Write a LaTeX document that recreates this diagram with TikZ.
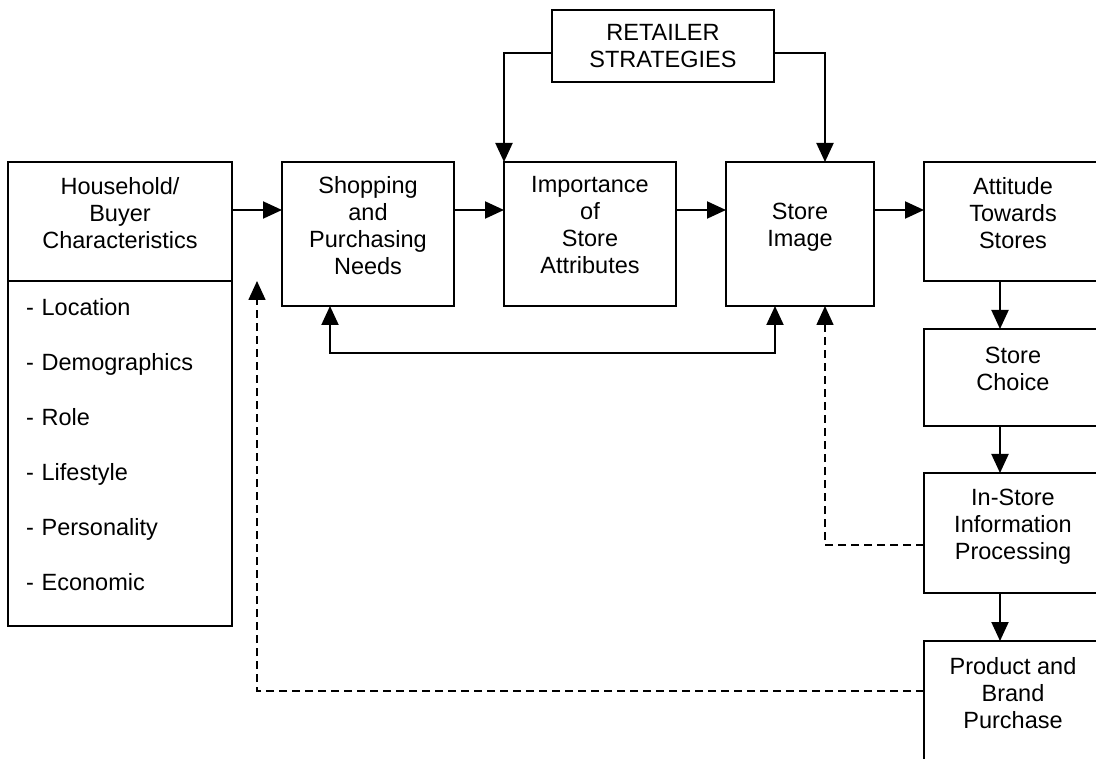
\documentclass[tikz,border=0pt]{standalone}
\usepackage{fontspec}
\setmainfont{Liberation Sans}
\usetikzlibrary{arrows.meta, positioning, calc}
\tikzset{
  stagebox/.style = {draw=black, line width=2pt, align=center, outer sep=0pt,
                     inner sep=2pt, font=\fontsize{23.5}{27}\selectfont,
                     text depth=18pt,
                     minimum width=172pt, minimum height=144pt},
  hhbox/.style    = {stagebox, minimum width=224pt, minimum height=119pt},
  listbox/.style  = {stagebox, minimum width=224pt, minimum height=345pt,
                     text width=188pt, align=left, text depth=293pt,
                     font=\fontsize{23.5}{55}\selectfont},
  colbox/.style   = {stagebox, minimum width=178pt},
  flow/.style     = {-{Triangle[length=19pt, width=17pt]}, line width=2pt},
  twoway/.style   = {flow, {Triangle[length=19pt, width=17pt]}-{Triangle[length=19pt, width=17pt]}},
  backflow/.style = {flow, line width=1.6pt, dash pattern=on 8pt off 5pt},
}

\begin{document}
\begin{tikzpicture}[x=1pt, y=1pt, node distance=48pt and 50pt]
        \useasboundingbox (0,0) rectangle (1096,-759);
        \coordinate (lane) at (0,-210);
        % household and the list under it
        \node[hhbox, anchor=north west] (hh) at (8,-162) {Household/\\Buyer\\Characteristics};
        \node[listbox, below=0pt of hh] (hhlist) {- Location\\- Demographics\\- Role\\- Lifestyle\\- Personality\\- Economic};
        % top row
        \node[stagebox, right=of hh.north east, anchor=north west] (shop) {Shopping\\and\\Purchasing\\Needs};
        \node[stagebox, right=of shop.north east, anchor=north west] (imp) {Importance\\of\\Store\\Attributes};
        \node[stagebox, minimum width=148pt, right=of imp.north east, anchor=north west] (img) {Store\\Image};
        \node[colbox, minimum height=119pt, right=of img.north east, anchor=north west] (att) {Attitude\\Towards\\Stores};
        \node[stagebox, minimum width=222pt, minimum height=72pt, text depth=0pt, anchor=north west] (ret) at (552,-10) {RETAILER\\STRATEGIES};
        % right column
        \node[colbox, minimum height=97pt, below=of att.south west, anchor=north west] (sc) {Store\\Choice};
        \node[colbox, minimum height=120pt, below=47pt of sc.south west, anchor=north west] (isp) {In-Store\\Information\\Processing};
        \node[colbox, minimum height=122pt, below=of isp.south west, anchor=north west] (pbp) {Product and\\Brand\\Purchase};
        % arrows
        \draw[flow] (hh.east |- lane)   -- (shop.west |- lane);
        \draw[flow] (shop.east |- lane) -- (imp.west |- lane);
        \draw[flow] (imp.east |- lane)  -- (img.west |- lane);
        \draw[flow] (img.east |- lane)  -- (att.west |- lane);
        \draw[flow] ([yshift=-7pt]ret.west) -| (imp.north west);
        \draw[flow] ([yshift=-7pt]ret.east) -| ([xshift=25pt]img.north);
        \draw[twoway] ([xshift=-38pt]shop.south) -- ++(0,-47) -| ([xshift=-25pt]img.south);
        \draw[flow] ([xshift=-13pt]att.south) -- ([xshift=-13pt]sc.north);
        \draw[flow] ([xshift=-13pt]sc.south)  -- ([xshift=-13pt]isp.north);
        \draw[flow] ([xshift=-13pt]isp.south) -- ([xshift=-13pt]pbp.north);
        \draw[backflow] ([yshift=-12pt]isp.west) -| ([xshift=25pt]img.south);
        \draw[backflow] ([yshift=11pt]pbp.west) -| ([xshift=25pt]hhlist.north east);
    \end{tikzpicture}
\end{document}
